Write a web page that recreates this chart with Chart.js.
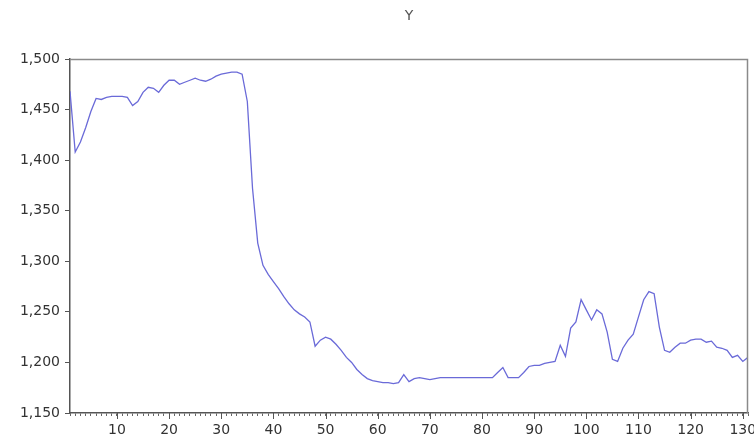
<!DOCTYPE html>
<html>
<head>
<meta charset="utf-8">
<script src="https://cdn.jsdelivr.net/npm/chart.js@4/dist/chart.umd.min.js"></script>
<style>
  html, body { margin: 0; padding: 0; background: #fff; }
  #wrap { width: 754px; height: 444px; position: relative; }
</style>
</head>
<body>
<div id="wrap"><canvas id="c" width="754" height="444"></canvas></div>
<script>
const titleText = "Y";
const firstPeriod = 1;
const lastPeriod = 131;
const yValues = [
  1468, 1408, 1418, 1432, 1448, 1461, 1460, 1462, 1463, 1463,
  1463, 1462, 1454, 1458, 1467, 1472, 1471, 1467, 1474, 1479,
  1479, 1475, 1477, 1479, 1481, 1479, 1478, 1480, 1483, 1485,
  1486, 1487, 1487, 1485, 1458, 1372, 1318, 1296, 1287, 1280,
  1273, 1265, 1258, 1252, 1248, 1245, 1240, 1216, 1222, 1225,
  1223, 1218, 1212, 1205, 1200, 1193, 1188, 1184, 1182, 1181,
  1180, 1180, 1179, 1180, 1188, 1181, 1184, 1185, 1184, 1183,
  1184, 1185, 1185, 1185, 1185, 1185, 1185, 1185, 1185, 1185,
  1185, 1185, 1190, 1195, 1185, 1185, 1185, 1190, 1196, 1197,
  1197, 1199, 1200, 1201, 1217, 1206, 1234, 1240, 1262, 1252,
  1242, 1252, 1248, 1230, 1203, 1201, 1214, 1222, 1228, 1245,
  1262, 1270, 1268, 1235, 1212, 1210, 1215, 1219, 1219, 1222,
  1223, 1223, 1220, 1221, 1215, 1214, 1212, 1205, 1207, 1201,
  1205
];
const xTickLabels = [10, 20, 30, 40, 50, 60, 70, 80, 90, 100, 110, 120, 130];
const yTickLabels = [1150, 1200, 1250, 1300, 1350, 1400, 1450, 1500];

const periods = yValues.map((_, i) => firstPeriod + i);
const points = periods.map((p, i) => ({ x: p, y: yValues[i] }));

const framePlugin = {
  id: 'frame',
  afterDraw(chart) {
    const ctx = chart.ctx;
    const a = chart.chartArea;
    const xs = chart.scales.x;
    ctx.save();
    ctx.fillStyle = '#555';
    ctx.font = '14px "DejaVu Sans"';
    ctx.textAlign = 'center';
    ctx.textBaseline = 'middle';
    ctx.fillText(titleText, (a.left + a.right) / 2, 16);
    ctx.strokeStyle = '#8a8a8a';
    ctx.lineWidth = 1.5;
    ctx.beginPath();
    ctx.moveTo(a.left, a.top + 0.5);
    ctx.lineTo(a.right - 0.5, a.top + 0.5);
    ctx.lineTo(a.right - 0.5, a.bottom);
    ctx.stroke();
    ctx.strokeStyle = '#555';
    ctx.lineWidth = 1;
    ctx.beginPath();
    xTickLabels.forEach(v => {
      const px = Math.round(xs.getPixelForValue(v)) + 0.5;
      ctx.moveTo(px, a.bottom);
      ctx.lineTo(px, a.bottom + 6);
    });
    ctx.stroke();
    ctx.restore();
  }
};

new Chart(document.getElementById('c'), {
  type: 'line',
  data: {
    datasets: [{
      data: points,
      borderColor: '#6a6ad8',
      borderWidth: 1.3,
      pointRadius: 0,
      tension: 0,
      fill: false
    }]
  },
  options: {
    responsive: false,
    animation: false,
    devicePixelRatio: 1,
    layout: { padding: { left: 0, right: 1, top: 59, bottom: 0 } },
    plugins: {
      legend: { display: false },
      tooltip: { enabled: false },
      title: { display: false }
    },
    scales: {
      x: {
        type: 'linear',
        min: firstPeriod,
        max: lastPeriod,
        afterBuildTicks(scale) {
          const t = [];
          for (let v = firstPeriod; v <= lastPeriod; v++) t.push({ value: v });
          scale.ticks = t;
        },
        afterFit(scale) { scale.height = 31; },
        ticks: {
          autoSkip: false,
          maxRotation: 0,
          minRotation: 0,
          padding: 6,
          color: '#333',
          font: { family: 'DejaVu Sans', size: 14 },
          callback: (v) => xTickLabels.includes(v) ? String(v) : ''
        },
        grid: {
          display: true,
          drawOnChartArea: false,
          drawTicks: true,
          tickLength: 3,
          color: '#666'
        },
        border: { display: true, color: '#555', width: 1.5 }
      },
      y: {
        min: yTickLabels[0],
        max: yTickLabels[yTickLabels.length - 1],
        afterBuildTicks(scale) {
          scale.ticks = yTickLabels.map(v => ({ value: v }));
        },
        afterFit(scale) { scale.width = 70; },
        ticks: {
          padding: 5,
          color: '#333',
          font: { family: 'DejaVu Sans', size: 14 },
          callback: (v) => Number(v).toLocaleString('en-US')
        },
        grid: {
          display: true,
          drawOnChartArea: false,
          drawTicks: true,
          tickLength: 5,
          color: '#555'
        },
        border: { display: true, color: '#555', width: 1.5 }
      }
    }
  },
  plugins: [framePlugin]
});
</script>
</body>
</html>
